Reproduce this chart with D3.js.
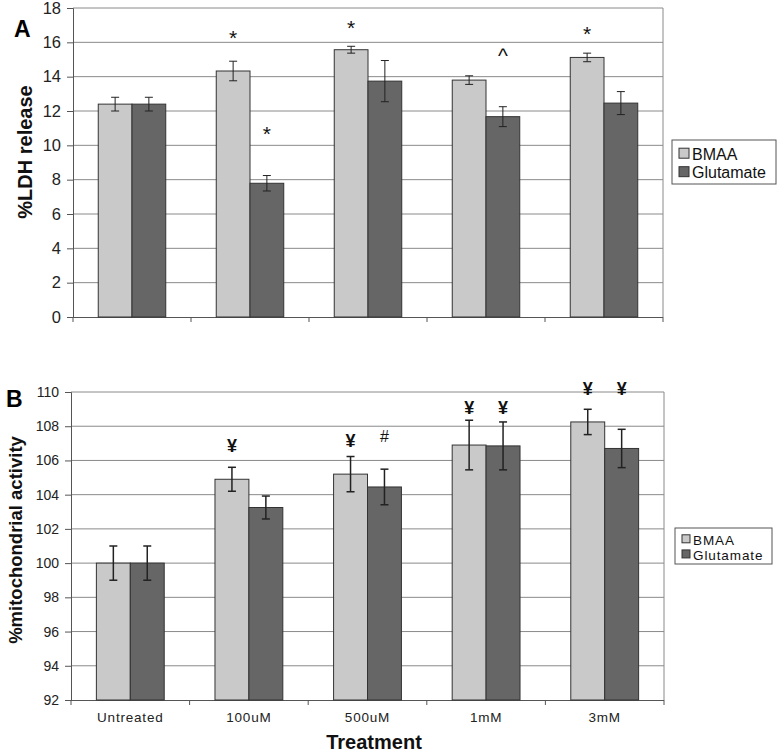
<!DOCTYPE html>
<html><head><meta charset="utf-8">
<script src="https://cdn.jsdelivr.net/npm/d3@7"></script>
<style>body{margin:0;background:#fff}svg{display:block}</style>
</head><body>
<svg id="chart" width="780" height="752"></svg>
<script>
const categories = ["Untreated","100uM","500uM","1mM","3mM"];
const seriesNames = ["BMAA","Glutamate"];
const ldhBMAA = [12.4,14.33,15.57,13.8,15.12];
const ldhBMAAErr = [0.4,0.57,0.2,0.25,0.25];
const ldhGlu = [12.4,7.79,13.74,11.67,12.46];
const ldhGluErr = [0.4,0.45,1.2,0.58,0.67];
const mitoBMAA = [100,104.9,105.2,106.9,108.25];
const mitoBMAAErr = [1.0,0.7,1.03,1.45,0.74];
const mitoGlu = [100,103.25,104.45,106.85,106.7];
const mitoGluErr = [1.0,0.67,1.04,1.4,1.12];
const ldhTicks = [0,2,4,6,8,10,12,14,16,18];
const mitoTicks = [92,94,96,98,100,102,104,106,108,110];
// significance marks: [category index, series index, symbol, value level]
const ldhMarks = [[1,0,"*",16.5],[1,1,"*",10.95],[2,0,"*",17.1],[3,1,"^",15.2],[4,0,"*",16.75]];
const mitoMarks = [[1,0,"¥",106.85],[2,0,"¥",107.15],[2,1,"#",107.4],[3,0,"¥",109.1],[3,1,"¥",109.1],[4,0,"¥",110.2],[4,1,"¥",110.2]];

const colors = ["#c9c9c9","#666666"];
const FONT = "Liberation Sans, Arial, sans-serif";
const svg = d3.select("#chart");

function panel(opt){
  const g = svg.append("g");
  const x0 = d3.scaleBand().domain(categories).range([opt.x0,opt.x1]).paddingInner(0.428).paddingOuter(0.214);
  const x1 = d3.scaleBand().domain(seriesNames).range([0,x0.bandwidth()]);
  const y = d3.scaleLinear().domain(opt.domain).range([opt.y1,opt.y0]);
  g.append("g").selectAll("line").data(opt.ticks.slice(1)).join("line")
    .attr("x1",opt.x0).attr("x2",opt.x1).attr("y1",d=>y(d)).attr("y2",d=>y(d))
    .attr("stroke","#8a8a8a").attr("stroke-width",1);
  g.append("line").attr("x1",opt.x1).attr("x2",opt.x1).attr("y1",opt.y0).attr("y2",opt.y1).attr("stroke","#8a8a8a");
  const ya = g.append("g").attr("transform",`translate(${opt.x0},0)`)
    .call(d3.axisLeft(y).tickValues(opt.ticks).tickSize(6).tickPadding(6).tickFormat(d3.format("d")));
  ya.select(".domain").attr("stroke","#555");
  ya.selectAll(".tick line").attr("stroke","#555");
  ya.selectAll("text").attr("font-family",FONT).attr("font-size",opt.tickFont).attr("fill","#222");
  const bounds = d3.range(categories.length+1).map(i=>opt.x0+i*x0.step());
  g.append("line").attr("x1",opt.x0).attr("x2",opt.x1).attr("y1",opt.y1+0.5).attr("y2",opt.y1+0.5).attr("stroke","#555");
  g.append("g").selectAll("line").data(bounds).join("line")
    .attr("x1",d=>d).attr("x2",d=>d).attr("y1",opt.y1).attr("y2",opt.y1+5).attr("stroke","#555");
  if(opt.xLabels){
    g.append("g").selectAll("text").data(categories).join("text")
      .attr("x",d=>x0(d)+x0.bandwidth()/2).attr("y",opt.y1+22)
      .attr("text-anchor","middle").attr("font-family",FONT).attr("font-size",13.5).attr("fill","#222")
      .attr("letter-spacing","0.8px").text(d=>d);
  }
  const data = categories.map((c,i)=>({c, vals:[{s:"BMAA",v:opt.a[i],e:opt.ae[i]},{s:"Glutamate",v:opt.b[i],e:opt.be[i]}]}));
  const grp = g.append("g").selectAll("g").data(data).join("g").attr("transform",d=>`translate(${x0(d.c)},0)`);
  grp.selectAll("rect").data(d=>d.vals).join("rect")
    .attr("x",d=>x1(d.s)).attr("width",x1.bandwidth())
    .attr("y",d=>y(d.v)).attr("height",d=>y(opt.domain[0])-y(d.v))
    .attr("fill",(d,i)=>colors[i]).attr("stroke","#333").attr("stroke-width",1);
  const eb = grp.selectAll("g.eb").data(d=>d.vals).join("g").attr("class","eb")
    .attr("transform",d=>`translate(${x1(d.s)+x1.bandwidth()/2},0)`);
  eb.append("line").attr("y1",d=>y(d.v+d.e)).attr("y2",d=>y(d.v-d.e)).attr("stroke","#222").attr("stroke-width",opt.ebw);
  eb.append("line").attr("x1",-4).attr("x2",4).attr("y1",d=>y(d.v+d.e)).attr("y2",d=>y(d.v+d.e)).attr("stroke","#222").attr("stroke-width",opt.ebw);
  eb.append("line").attr("x1",-4).attr("x2",4).attr("y1",d=>y(d.v-d.e)).attr("y2",d=>y(d.v-d.e)).attr("stroke","#222").attr("stroke-width",opt.ebw);
  g.append("g").selectAll("text").data(opt.marks).join("text")
    .attr("x",d=>x0(categories[d[0]])+x1(seriesNames[d[1]])+x1.bandwidth()/2)
    .attr("y",d=>y(d[3]))
    .attr("dy",d=>d[2]==="*"?"0.55em":"0.35em")
    .attr("text-anchor","middle").attr("font-family",FONT)
    .attr("font-size",d=>d[2]==="¥"?18:(d[2]==="#"?16:21))
    .attr("font-weight",d=>d[2]==="¥"?"bold":"normal").attr("fill","#111")
    .text(d=>d[2]);
  const lg = g.append("g").attr("transform",`translate(${opt.legend[0]},${opt.legend[1]})`);
  lg.append("rect").attr("width",opt.legend[2]).attr("height",opt.legend[3]).attr("fill","#fff").attr("stroke","#555");
  seriesNames.forEach((s,i)=>{
    const yy = opt.legend[3]*(0.3+0.42*i);
    lg.append("rect").attr("x",7).attr("y",yy-opt.sw/2).attr("width",opt.sw).attr("height",opt.sw).attr("fill",colors[i]).attr("stroke","#333");
    lg.append("text").attr("x",10+opt.sw).attr("y",yy+1).attr("dy","0.35em").attr("font-family",FONT)
      .attr("font-size",opt.legFont).attr("fill","#111").attr("letter-spacing",opt.ls).text(s);
  });
  g.append("text").attr("transform",`translate(${opt.titleX},${opt.titleY}) rotate(-90)`)
    .attr("text-anchor","middle").attr("font-family",FONT).attr("font-weight","bold").attr("font-size",opt.titleFont).attr("fill","#111")
    .text(opt.title);
  g.append("text").attr("x",opt.letter[0]).attr("y",opt.letter[1]).attr("font-family",FONT).attr("font-weight","bold")
    .attr("font-size",23).attr("fill","#000").text(opt.letterText);
}

panel({x0:73,x1:663,y0:8,y1:317,domain:[0,18],ticks:ldhTicks,a:ldhBMAA,ae:ldhBMAAErr,b:ldhGlu,be:ldhGluErr,
  marks:ldhMarks,tickFont:16.5,xLabels:false,ebw:1,legend:[672,140,104,44],sw:10,legFont:16,ls:"0px",
  title:"%LDH release",titleFont:20,titleX:32,titleY:152,letter:[14,37],letterText:"A"});
panel({x0:71,x1:664,y0:392,y1:700,domain:[92,110],ticks:mitoTicks,a:mitoBMAA,ae:mitoBMAAErr,b:mitoGlu,be:mitoGluErr,
  marks:mitoMarks,tickFont:14,xLabels:true,ebw:1.5,legend:[675,528,97,36],sw:8,legFont:13.5,ls:"0.9px",
  title:"%mitochondrial activity",titleFont:18.5,titleX:22,titleY:540,letter:[6,407],letterText:"B"});
svg.append("text").attr("x",374).attr("y",749).attr("text-anchor","middle").attr("font-family",FONT)
  .attr("font-weight","bold").attr("font-size",20).attr("fill","#111").text("Treatment");
</script>
</body></html>
